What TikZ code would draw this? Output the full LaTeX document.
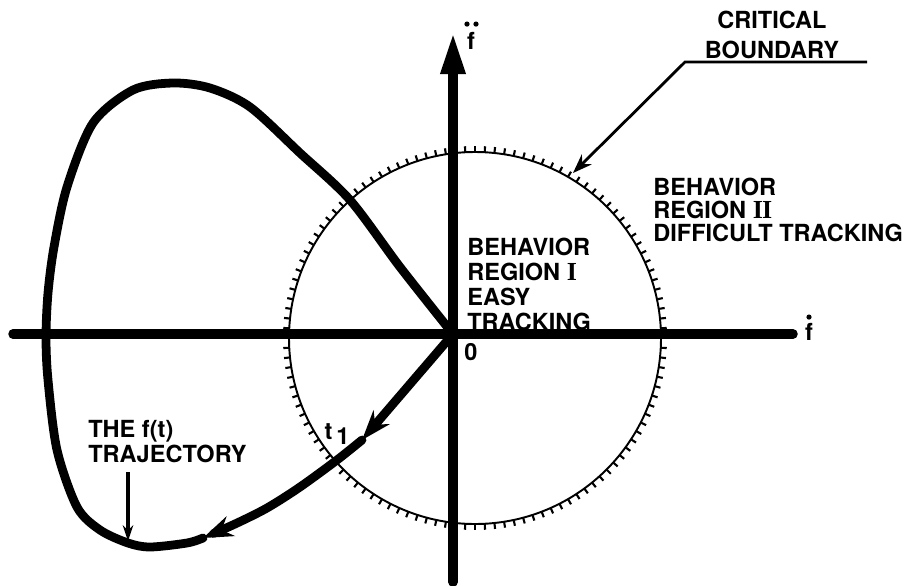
\documentclass[tikz,border=0pt]{standalone}
\usepackage{fontspec}
\setmainfont{TeX Gyre Heros}
\newfontfamily\numfont{Liberation Serif}
\usetikzlibrary{arrows.meta}

\tikzset{
  axis/.style={line width=5.4pt,line cap=round},
  traj/.style={line width=5pt,line cap=round,line join=round},
  boundary/.style={line width=1.1pt},
  hatch/.style={line width=1.2pt},
  callout/.style={line width=1.6pt,-{Stealth[length=11pt,width=8pt]}},
  lbl/.style={font=\bfseries\fontsize{13.4}{14.2}\selectfont,align=left,inner sep=0pt},
  dotmark/.style={radius=2.6},
}
\newcommand{\romI}{{\numfont\bfseries\fontsize{14.8}{14}\selectfont I}}

\begin{document}
\begin{tikzpicture}[x=0.02cm,y=-0.02cm]
\useasboundingbox (0,0) rectangle (919,585);
% phase plane axes
\coordinate (O) at (453,334);
\coordinate (xl) at (13,334);
\coordinate (xr) at (793,334);
\coordinate (yb) at (453,582);
\coordinate (yt) at (453,32);
% critical boundary with hatching
\coordinate (C) at (475,338);
\draw[boundary] (C) circle [radius=186];
\foreach \a in {0,3,...,357}
  \draw[hatch] (C) ++(\a:186) -- ++(\a:6);
\draw[axis] (xl) -- (xr);
\draw[axis,-{Triangle[length=24pt,width=13pt]}] (yb) -- (yt);
\node[lbl] (fx) at (809,332) {f};
\fill (fx.north) ++(0,-6) circle[dotmark];
\node[lbl] (fy) at (471,41) {f};
\fill (fy.north) ++(-4,-8) circle[dotmark] ++(9,0) circle[dotmark];
\node[lbl] (zero) at (471,352) {0};
% the f(t) trajectory
\coordinate (tA) at (362,440);
\coordinate (tB) at (203,538);
\draw[traj,-{Stealth[length=17pt,width=12pt]}] (O) -- (tA);
\draw[traj,-{Stealth[length=17pt,width=12pt]}] plot[smooth] coordinates
  {(362,440) (337,460) (300,487) (267,508) (235,524) (203,538)};
\draw[traj] plot[smooth] coordinates
  {(203,538) (187,543) (150,547) (128,543) (100,530) (77,507) (57,450)
   (48,380) (46,337) (48,293) (54,247) (67,187) (93,123) (133,90)
   (173,83) (210,88) (250,107) (300,153) (350,200) (400,267) (453,334)};
\node[lbl] (tone) at (337,434) {t\,\raisebox{-0.45ex}{1}};
% labels
\node[lbl,anchor=north west] (reg1) at (467,238)
  {BEHAVIOR\\REGION \romI\\EASY\\TRACKING};
\node[lbl,anchor=north west,font=\bfseries\fontsize{13.4}{13.1}\selectfont] (reg2) at (653,178)
  {BEHAVIOR\\REGION \romI\kern-0.5pt\romI\\DIFFICULT TRACKING};
\node[lbl,align=center,font=\bfseries\fontsize{13.4}{17}\selectfont] (crit) at (772,35)
  {CRITICAL\\BOUNDARY};
\coordinate (k1) at (867,62);
\coordinate (k2) at (685,62);
\coordinate (k3) at (573,173);
\draw[callout] (k1) -- (k2) -- (k3);
\node[lbl,anchor=north west] (trjlbl) at (88,420) {THE f(t)\\TRAJECTORY};
\coordinate (p1) at (128,472);
\coordinate (p2) at (128,541);
\draw[line width=1.8pt,-{Stealth[length=9pt,width=6pt]}] (p1) -- (p2);
\end{tikzpicture}
\end{document}
